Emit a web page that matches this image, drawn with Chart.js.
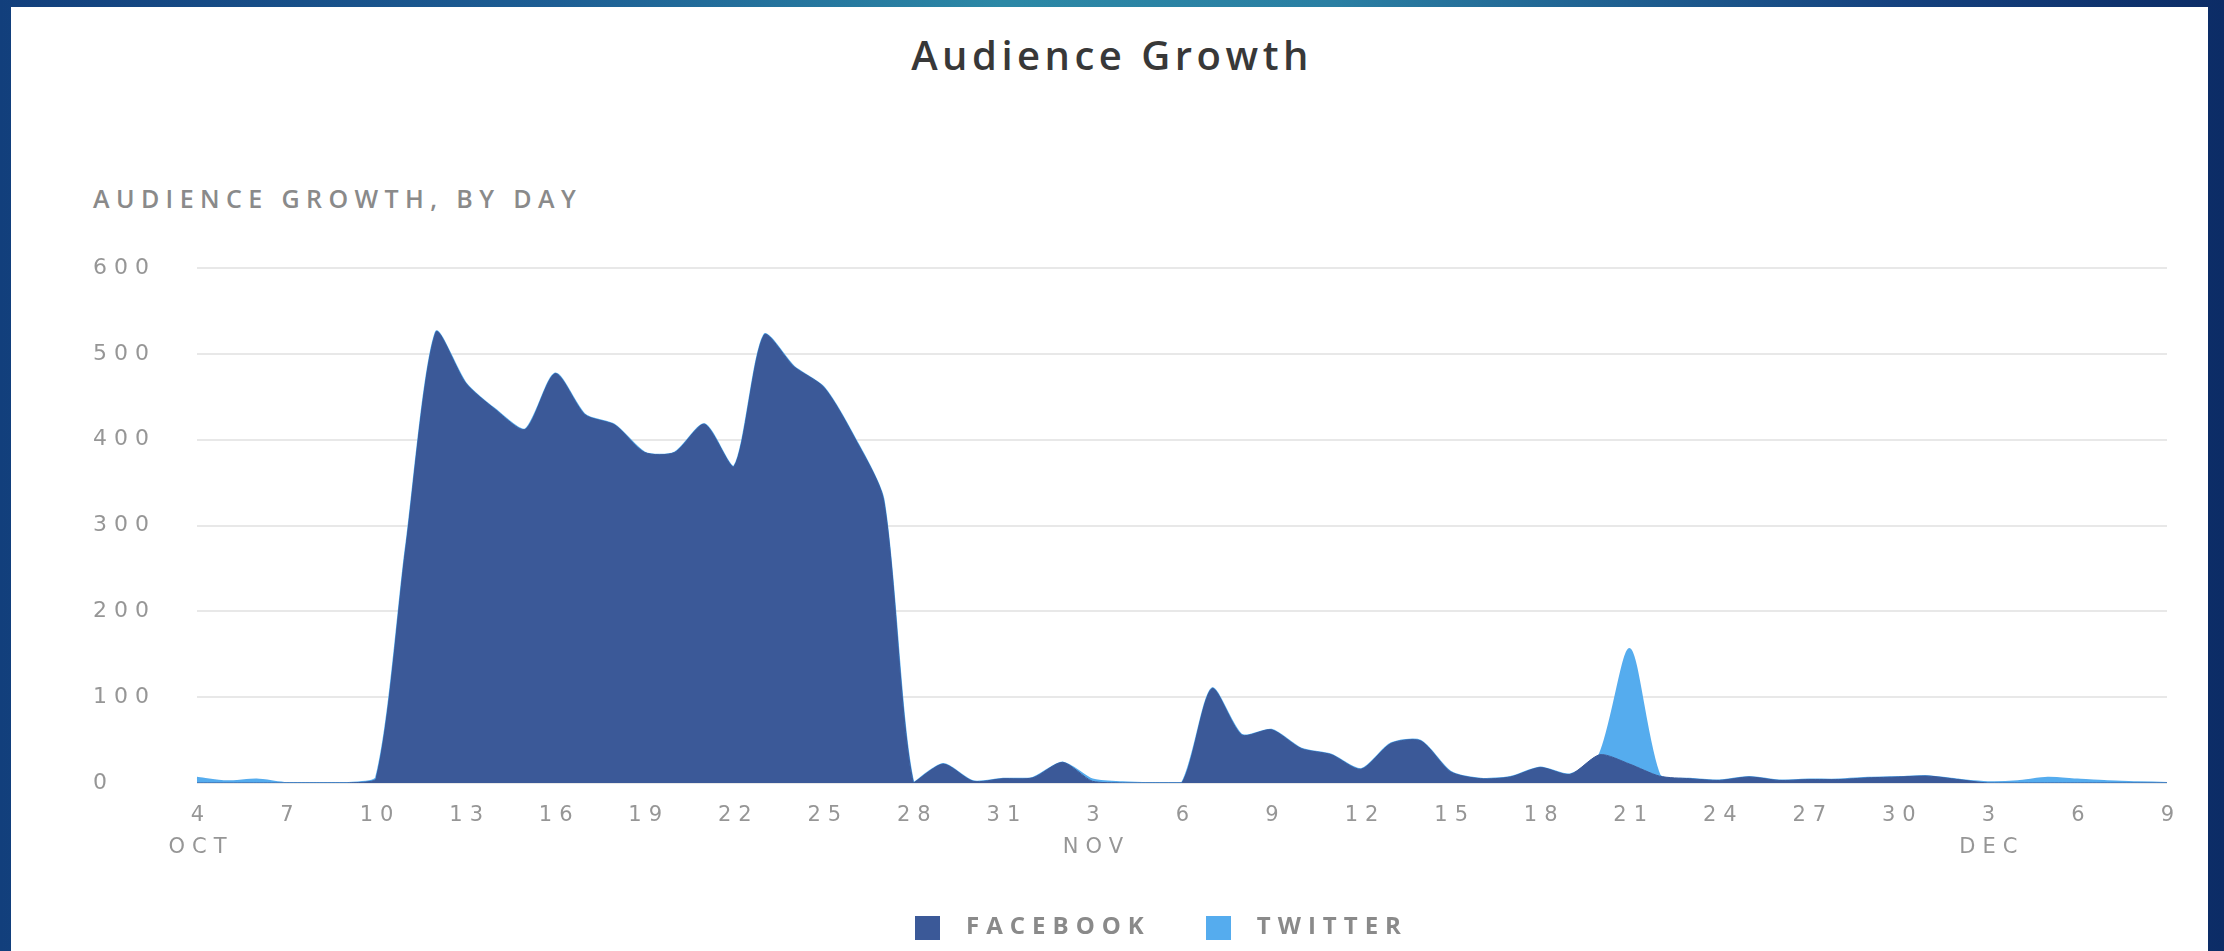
<!DOCTYPE html>
<html>
<head>
<meta charset="utf-8">
<script src="https://cdn.jsdelivr.net/npm/chart.js@4.4.1/dist/chart.umd.min.js"></script>
<style>
  html, body { margin: 0; padding: 0; }
  body {
    width: 2224px; height: 951px; overflow: hidden; position: relative;
    background: linear-gradient(to right, #123f7c 0%, #1d5e94 25%, #2c88a6 45%, #2a7fa3 60%, #15427f 85%, #0c2c66 100%);
  }
  #panel {
    position: absolute; left: 11px; top: 7px; width: 2197px; height: 944px; background: #fff;
  }
  #title {
    position: absolute; left: 0; width: 2224px; top: 35px; text-align: center;
    font-family: "Open Sans", sans-serif; font-weight: 600; font-size: 40px; line-height: 40px;
    color: #383838; letter-spacing: 4.5px;
  }
  #subtitle {
    position: absolute; left: 93px; top: 186px;
    font-family: "Open Sans", sans-serif; font-weight: 600; font-size: 25px; line-height: 25px;
    color: #8a8a8a; letter-spacing: 6.4px; white-space: nowrap;
  }
  #wrap { position: absolute; left: 93px; top: 244px; width: 2107px; height: 711px; }
</style>
</head>
<body>
<div id="panel"></div>
<div id="title">Audience Growth</div>
<div id="subtitle">AUDIENCE GROWTH, BY DAY</div>
<div id="wrap"><canvas id="c"></canvas></div>
<script>
// Day-of-month for each category, Oct 4 .. Dec 9
const days = [4,5,6,7,8,9,10,11,12,13,14,15,16,17,18,19,20,21,22,23,24,25,26,27,28,29,30,31,
              1,2,3,4,5,6,7,8,9,10,11,12,13,14,15,16,17,18,19,20,21,22,23,24,25,26,27,28,29,30,
              1,2,3,4,5,6,7,8,9];
const monthTickIndex = [0, 30, 60];
const monthNames = ['OCT', 'NOV', 'DEC'];
const seriesNames = ['FACEBOOK', 'TWITTER'];
const seriesColors = ['#3b5998', '#55acee'];

const facebook = [0,0,0,0,0,0,5,275,525,466,435,412,477,429,417,385,385,418,369,522,485,461,404,330,
                  0,22,2,5,6,24,2,0,0,0,110,56,62,40,33,16,46,49,13,5,7,18,10,33,22,8,5,3,7,3,4,4,6,7,8,4,
                  0,0,0,0,0,0,0];
const twitter  = [6,2,4,0,0,0,1,0,0,0,0,0,0,0,0,0,0,0,0,0,0,0,0,0,
                  0,0,0,0,0,0,2,1,0,0,0,0,0,0,0,0,0,0,0,0,0,0,0,1,134,1,0,0,0,0,0,0,0,0,0,0,
                  1,2,6,4,2,1,0];
const yTicks = [0, 100, 200, 300, 400, 500, 600];

const categories = days.map((d, i) => i);

function legendSwatch(color) {
  const c = document.createElement('canvas');
  c.width = 25; c.height = 24;
  const g = c.getContext('2d');
  g.fillStyle = color; g.fillRect(0, 0, 25, 24);
  return c;
}

const spacingPlugin = {
  id: 'spacing',
  beforeUpdate(chart) { chart.ctx.letterSpacing = '7px'; },
  beforeDraw(chart) { chart.ctx.letterSpacing = '7px'; },
  afterLayout(chart) {
    const lg = chart.legend;
    if (lg) { lg.left += 24.5; lg.right += 24.5; lg.top -= 5.5; lg.bottom -= 5.5; }
  }
};

new Chart(document.getElementById('c'), {
  type: 'line',
  data: {
    labels: categories,
    datasets: [
      {
        label: seriesNames[0], data: facebook,
        backgroundColor: seriesColors[0], borderColor: seriesColors[0], borderWidth: 1,
        fill: 'origin', pointRadius: 0, tension: 0.25, pointStyle: legendSwatch(seriesColors[0])
      },
      {
        label: seriesNames[1], data: twitter,
        backgroundColor: seriesColors[1], borderColor: seriesColors[1], borderWidth: 2,
        fill: '-1', pointRadius: 0, tension: 0.25, pointStyle: legendSwatch(seriesColors[1])
      }
    ]
  },
  options: {
    responsive: true, maintainAspectRatio: false, animation: false,
    events: [],
    layout: { padding: { top: 24, right: 33, left: 0, bottom: 0 } },
    plugins: {
      title: { display: false },
      tooltip: { enabled: false },
      legend: {
        position: 'bottom',
        maxHeight: 81,
        labels: {
          usePointStyle: true, pointStyleWidth: 53, boxHeight: 24,
          padding: 41,
          color: '#8a8a8a',
          font: { family: 'Open Sans', weight: '700', size: 24 }
        }
      }
    },
    scales: {
      x: {
        grid: { display: false, drawTicks: false },
        border: { display: false },
        ticks: {
          autoSkip: false, maxRotation: 0, padding: 17, labelOffset: 4,
          color: '#969696',
          font: { family: 'DejaVu Sans', size: 21, lineHeight: 1.5 },
          callback: (v, i) => {
            if (i % 3 !== 0) return null;
            const m = monthTickIndex.indexOf(i);
            return m >= 0 ? [String(days[i]), monthNames[m]] : String(days[i]);
          }
        }
      },
      y: {
        stacked: true, min: 0, max: 600,
        afterFit: (s) => { s.width = 104; },
        afterBuildTicks: (s) => { s.ticks = yTicks.map(v => ({ value: v })); },
        grid: { color: '#e8e8e8', lineWidth: 2, drawTicks: false },
        border: { display: false },
        ticks: {
          crossAlign: 'far', padding: 0,
          color: '#969696',
          font: { family: 'DejaVu Sans', size: 22 }
        }
      }
    }
  },
  plugins: [spacingPlugin]
});
</script>
</body>
</html>
